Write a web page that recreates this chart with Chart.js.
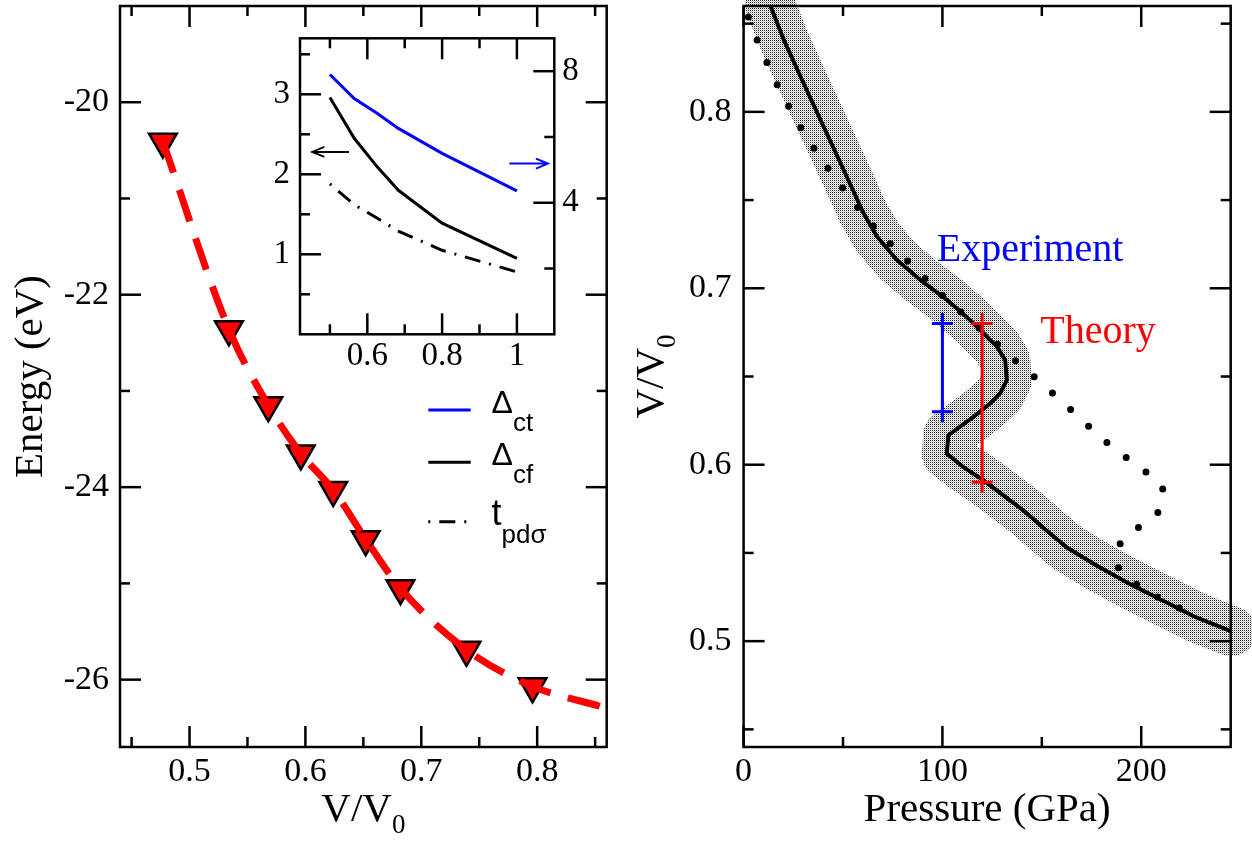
<!DOCTYPE html>
<html>
<head>
<meta charset="utf-8">
<script src="https://cdn.jsdelivr.net/npm/chart.js@4.4.1/dist/chart.umd.min.js"></script>
<style>
  html, body { margin: 0; padding: 0; background: #fff; }
  #wrap { position: relative; width: 1252px; height: 842px; overflow: hidden; }
  canvas { position: absolute; }
  .probe { position: absolute; left: -9999px; font-size: 10px; }
</style>
</head>
<body>
<div id="wrap">
  <canvas id="energyChart" width="626" height="842" style="left:0;top:0;width:626px;height:842px"></canvas>
  <canvas id="pressureChart" width="626" height="842" style="left:626px;top:0;width:626px;height:842px"></canvas>
  <canvas id="insetChart" width="350" height="360" style="left:250px;top:20px;width:350px;height:360px"></canvas>
</div>
<span class="probe" style="font-family:'Liberation Serif'">0.5 Energy</span>
<span class="probe" style="font-family:'Liberation Sans'">&#916;ct</span>
<script>
// --- linke Grafik: Energie gegen V/V0 ---
const energyV = [0.477, 0.534, 0.568, 0.596, 0.624, 0.652, 0.682, 0.739, 0.796];
const energyE = [-20.41, -22.36, -23.15, -23.65, -24.03, -24.54, -25.05, -25.69, -26.07];
// Fitkurve (gestrichelt)
const fitV = [0.477, 0.534, 0.568, 0.596, 0.624, 0.652, 0.682, 0.739, 0.796, 0.855];
const fitE = [-20.41, -22.36, -23.15, -23.65, -24.03, -24.54, -25.05, -25.69, -26.07, -26.28];

const leftXTicks = [0.5, 0.6, 0.7, 0.8];
const leftXMinor = [0.45, 0.55, 0.65, 0.75, 0.85];
const leftYTicks = [-26, -24, -22, -20];
const leftYMinor = [-25, -23, -21];

// --- Inset ---
const insetV = [0.5, 0.565, 0.627, 0.683, 0.8, 1.0];
const deltaCt = [7.90, 7.17, 6.71, 6.26, 5.50, 4.36];   // rechte Achse
const deltaCf = [2.96, 2.45, 2.09, 1.80, 1.39, 0.95];   // linke Achse
const tPdSigma = [1.88, 1.62, 1.45, 1.29, 1.05, 0.78];  // linke Achse

const insetXTicks = [0.6, 0.8, 1];
const insetXMinor = [0.5, 0.7, 0.9];
const insetYTicks = [1, 2, 3];
const insetYMinor = [0.5, 1.5, 2.5, 3.5];
const insetY2Ticks = [4, 8];
const insetY2Minor = [2, 6];

// --- rechte Grafik: V/V0 gegen Druck ---
const solidP = [13.3, 20.0, 29.2, 40.1, 51.0, 60.2, 67.0, 77.0, 88.8, 102.2, 113.9, 120.6, 127.4, 131.6, 132.4, 129.0, 124.0, 115.6, 103.0, 102.2, 110.6, 120.6, 127.4, 140.8, 152.5, 162.6, 177.7, 194.5, 211.2, 228.0, 245.1];
const solidV = [0.8607, 0.8414, 0.8186, 0.792, 0.7655, 0.7428, 0.7295, 0.7162, 0.7048, 0.6935, 0.682, 0.6745, 0.6669, 0.6593, 0.648, 0.6404, 0.6347, 0.6271, 0.6167, 0.6063, 0.5986, 0.5911, 0.5854, 0.574, 0.5626, 0.5531, 0.5427, 0.5323, 0.5228, 0.5133, 0.5057];

const dotP = [2.4, 6.9, 11.9, 17.5, 23.4, 30.0, 37.1, 44.3, 51.9, 60.2, 68.3, 77.6, 86.6, 95.5, 104.4, 113.9, 124.0, 133.7, 143.3, 152.8, 162.6, 171.8, 181.4, 191.4, 201.5, 210.9, 209.2, 199.1, 189.4, 188.3, 197.5, 208.7, 220.5];
const dotV = [0.8537, 0.8404, 0.8275, 0.8139, 0.8015, 0.7886, 0.7765, 0.7651, 0.7536, 0.7418, 0.7314, 0.7209, 0.7109, 0.7007, 0.6912, 0.682, 0.6722, 0.6618, 0.6527, 0.6432, 0.6332, 0.6236, 0.6138, 0.6049, 0.5968, 0.5869, 0.5736, 0.5649, 0.5554, 0.5418, 0.5323, 0.5247, 0.5181];

const expP = [100, 100];
const expV = [0.63, 0.68];
const theoP = [120, 120];
const theoV = [0.59, 0.68];

const rightXTicks = [0, 100, 200];
const rightXMinor = [50, 150];
const rightYTicks = [0.5, 0.6, 0.7, 0.8];
const rightYMinor = [0.45, 0.55, 0.65, 0.75, 0.85];

const SERIF = "'Liberation Serif', 'Times New Roman', serif";
const SANS = "'Liberation Sans', Arial, sans-serif";

const zip = (xs, ys) => xs.map((x, i) => ({ x: x, y: ys[i] }));

// Achse mit festen Ticks; feste Breite/Hoehe, kein Extra-Rand fuer Labels
function axis(min, max, major, size, pad, fitKey, fitVal, extra) {
  return Object.assign({
    type: 'linear', min: min, max: max,
    grid: { display: false, drawTicks: false },
    border: { display: false },
    ticks: { padding: pad, color: '#000', font: { family: SERIF, size: size }, callback: v => String(v) },
    afterBuildTicks: s => { s.ticks = major.map(v => ({ value: v })); },
    afterFit: s => {
      s[fitKey] = fitVal;
      s.paddingTop = 0; s.paddingBottom = 0; s.paddingLeft = 0; s.paddingRight = 0;
    }
  }, extra || {});
}

// Rahmen und nach innen zeigende Ticks
function frameTicks(specs) {
  return {
    id: 'frameTicks',
    afterDatasetsDraw(chart) {
      const { ctx, chartArea: a } = chart;
      ctx.save();
      ctx.strokeStyle = '#000';
      ctx.lineWidth = 2.5;
      specs.forEach(s => {
        const sc = chart.scales[s.axis];
        [[s.major, 21], [s.minor, 10]].forEach(([vals, len]) => vals.forEach(v => {
          const p = sc.getPixelForValue(v);
          s.sides.forEach(side => {
            ctx.beginPath();
            if (side === 'bottom') { ctx.moveTo(p, a.bottom); ctx.lineTo(p, a.bottom - len); }
            if (side === 'top') { ctx.moveTo(p, a.top); ctx.lineTo(p, a.top + len); }
            if (side === 'left') { ctx.moveTo(a.left, p); ctx.lineTo(a.left + len, p); }
            if (side === 'right') { ctx.moveTo(a.right, p); ctx.lineTo(a.right - len, p); }
            ctx.stroke();
          });
        }));
      });
      ctx.strokeRect(a.left, a.top, a.right - a.left, a.bottom - a.top);
      ctx.restore();
    }
  };
}

// Text mit Index, z.B. V/V0
function subText(ctx, main, sub, x, y, mainFont, subFont, drop, centered) {
  ctx.font = mainFont;
  const w1 = ctx.measureText(main).width;
  ctx.font = subFont;
  const w2 = ctx.measureText(sub).width;
  let x0 = centered ? x - (w1 + w2) / 2 : x;
  ctx.textAlign = 'left';
  ctx.textBaseline = 'alphabetic';
  ctx.font = mainFont;
  ctx.fillText(main, x0, y);
  ctx.font = subFont;
  ctx.fillText(sub, x0 + w1, y + drop);
}

function axisTitles(xMain, xSub, yMain, ySub, yOffset) {
  return {
    id: 'axisTitles',
    afterDraw(chart) {
      const { ctx, chartArea: a } = chart;
      ctx.save();
      ctx.fillStyle = '#000';
      const cx = (a.left + a.right) / 2, cy = (a.top + a.bottom) / 2;
      subText(ctx, xMain, xSub, cx, a.bottom + 73.5, '41px ' + SERIF, '27px ' + SERIF, 12, true);
      ctx.translate(a.left - yOffset, cy);
      ctx.rotate(-Math.PI / 2);
      subText(ctx, yMain, ySub, 0, 0, '41px ' + SERIF, '27px ' + SERIF, 12, true);
      ctx.restore();
    }
  };
}

// Punktraster fuer das graue Band
function stipple() {
  const c = document.createElement('canvas');
  c.width = 2; c.height = 2;
  const g = c.getContext('2d');
  g.fillStyle = '#fff'; g.fillRect(0, 0, 2, 2);
  g.fillStyle = '#222'; g.fillRect(0, 0, 1, 1);
  g.fillStyle = '#c4c4c4'; g.fillRect(1, 1, 1, 1);
  return g.createPattern(c, 'repeat');
}

const insetArrows = [
  { axis: 'y', from: [0.551, 2.28], to: [0.453, 2.28], color: '#000' },
  { axis: 'y2', from: [0.98, 5.19], to: [1.083, 5.19], color: '#0000ff' }
];

const pressureLabels = [
  { text: 'Experiment', p: 97.2, v: 0.7152, color: '#0000ff' },
  { text: 'Theory', p: 149.2, v: 0.6692, color: '#ff0000' }
];

function drawCharts() {
  // Linke Grafik
  new Chart(document.getElementById('energyChart'), {
    type: 'scatter',
    data: {
      datasets: [{
        data: zip(fitV, fitE),
        showLine: true,
        borderColor: '#ff0000',
        borderWidth: 7,
        borderDash: [33, 18],
        cubicInterpolationMode: 'monotone',
        pointRadius: 0,
        order: 0
      }, {
        data: zip(energyV, energyE),
        showLine: false,
        pointStyle: 'triangle',
        pointRotation: 180,
        pointRadius: 16,
        pointBackgroundColor: '#ff0000',
        pointBorderColor: '#000',
        pointBorderWidth: 2.5,
        order: 1
      }]
    },
    options: {
      responsive: false,
      animation: false,
      layout: { autoPadding: false, padding: { left: 0, top: 6, right: 19.3, bottom: 0 } },
      plugins: { legend: { display: false }, tooltip: { enabled: false } },
      scales: {
        x: axis(0.44, 0.86, leftXTicks, 34, 5, 'height', 95),
        y: axis(-26.7, -19, leftYTicks, 34, 11, 'width', 120)
      }
    },
    plugins: [
      frameTicks([
        { axis: 'x', major: leftXTicks, minor: leftXMinor, sides: ['bottom', 'top'] },
        { axis: 'y', major: leftYTicks, minor: leftYMinor, sides: ['left', 'right'] }
      ]),
      axisTitles('V/V', '0', 'Energy (eV)', '', 78.3),
      {
        id: 'insetLegend',
        afterDraw(chart) {
          const ctx = chart.ctx;
          const rows = [
            { y: 410, color: '#0000ff', dash: [], main: '\u0394', sub: 'ct', mainSize: 32 },
            { y: 462.3, color: '#000', dash: [], main: '\u0394', sub: 'cf', mainSize: 32 },
            { y: 521.7, color: '#000', dash: [2, 9, 16, 9], main: 't', sub: 'pd\u03c3', mainSize: 36 }
          ];
          ctx.save();
          rows.forEach(r => {
            ctx.strokeStyle = r.color;
            ctx.lineWidth = 3;
            ctx.setLineDash(r.dash);
            ctx.beginPath();
            ctx.moveTo(428.3, r.y);
            ctx.lineTo(470.7, r.y);
            ctx.stroke();
            ctx.fillStyle = '#000';
            subText(ctx, r.main, r.sub, 491.5, r.y + 3, r.mainSize + 'px ' + SANS, '26px ' + SANS, 18, false);
          });
          ctx.restore();
        }
      }
    ]
  });

  // Inset
  new Chart(document.getElementById('insetChart'), {
    type: 'scatter',
    data: {
      datasets: [{
        data: zip(insetV, deltaCt), yAxisID: 'y2', showLine: true, tension: 0,
        borderColor: '#0000ff', borderWidth: 3, pointRadius: 0
      }, {
        data: zip(insetV, deltaCf), yAxisID: 'y', showLine: true, tension: 0,
        borderColor: '#000', borderWidth: 3, pointRadius: 0
      }, {
        data: zip(insetV, tPdSigma), yAxisID: 'y', showLine: true, tension: 0,
        borderColor: '#000', borderWidth: 3, borderDash: [2, 9, 16, 9], pointRadius: 0
      }]
    },
    options: {
      responsive: false,
      animation: false,
      layout: { autoPadding: false, padding: { left: 0, top: 18.3, right: 0, bottom: 0 } },
      plugins: { legend: { display: false }, tooltip: { enabled: false } },
      scales: {
        x: axis(0.42, 1.1, insetXTicks, 33, 2, 'height', 45.7),
        y: axis(0, 3.7, insetYTicks, 33, 10, 'width', 50),
        y2: axis(0, 9, insetY2Ticks, 33, 8, 'width', 45.7, { position: 'right' })
      }
    },
    plugins: [
      {
        id: 'whiteBox',
        beforeDatasetsDraw(chart) {
          const { ctx, chartArea: a } = chart;
          ctx.save();
          ctx.fillStyle = '#fff';
          ctx.fillRect(a.left, a.top, a.right - a.left, a.bottom - a.top);
          ctx.restore();
        }
      },
      frameTicks([
        { axis: 'x', major: insetXTicks, minor: insetXMinor, sides: ['bottom', 'top'] },
        { axis: 'y', major: insetYTicks, minor: insetYMinor, sides: ['left'] },
        { axis: 'y2', major: insetY2Ticks, minor: insetY2Minor, sides: ['right'] }
      ]),
      {
        id: 'arrows',
        afterDatasetsDraw(chart) {
          const ctx = chart.ctx, xs = chart.scales.x;
          ctx.save();
          ctx.lineWidth = 2;
          insetArrows.forEach(a => {
            const ys = chart.scales[a.axis];
            const x0 = xs.getPixelForValue(a.from[0]), y0 = ys.getPixelForValue(a.from[1]);
            const x1 = xs.getPixelForValue(a.to[0]), y1 = ys.getPixelForValue(a.to[1]);
            const dir = Math.sign(x1 - x0);
            ctx.strokeStyle = a.color;
            ctx.beginPath();
            ctx.moveTo(x0, y0); ctx.lineTo(x1, y1);
            ctx.moveTo(x1 - dir * 12, y1 - 5); ctx.lineTo(x1, y1); ctx.lineTo(x1 - dir * 12, y1 + 5);
            ctx.stroke();
          });
          ctx.restore();
        }
      }
    ]
  });

  // Rechte Grafik
  new Chart(document.getElementById('pressureChart'), {
    type: 'scatter',
    data: {
      datasets: [{
        data: zip(solidP, solidV), showLine: true, tension: 0,
        borderColor: stipple(), borderWidth: 50,
        borderJoinStyle: 'round', borderCapStyle: 'round',
        pointRadius: 0, clip: false, order: 4
      }, {
        data: zip(dotP, dotV), showLine: true, tension: 0,
        borderColor: '#000', borderWidth: 7, borderDash: [0, 24.5], borderCapStyle: 'round',
        pointRadius: 0, order: 3
      }, {
        data: zip(solidP, solidV), showLine: true, tension: 0,
        borderColor: '#000', borderWidth: 4, borderJoinStyle: 'round',
        pointRadius: 0, order: 2
      }, {
        data: zip(expP, expV), showLine: true,
        borderColor: '#0000ff', borderWidth: 3,
        pointStyle: 'cross', pointRadius: 10.5, pointBorderColor: '#0000ff', pointBorderWidth: 3,
        clip: false, order: 1
      }, {
        data: zip(theoP, theoV), showLine: true,
        borderColor: '#ff0000', borderWidth: 3,
        pointStyle: 'cross', pointRadius: 10.5, pointBorderColor: '#ff0000', pointBorderWidth: 3,
        clip: false, order: 0
      }]
    },
    options: {
      responsive: false,
      animation: false,
      layout: { autoPadding: false, padding: { left: 0, top: 6, right: 21.3, bottom: 0 } },
      plugins: { legend: { display: false }, tooltip: { enabled: false } },
      scales: {
        x: axis(0, 245, rightXTicks, 34, 5, 'height', 95),
        y: axis(0.44, 0.86, rightYTicks, 34, 12, 'width', 117.6)
      }
    },
    plugins: [
      frameTicks([
        { axis: 'x', major: rightXTicks, minor: rightXMinor, sides: ['bottom', 'top'] },
        { axis: 'y', major: rightYTicks, minor: rightYMinor, sides: ['left', 'right'] }
      ]),
      axisTitles('Pressure (GPa)', '', 'V/V', '0', 80.3),
      {
        id: 'textLabels',
        afterDatasetsDraw(chart) {
          const ctx = chart.ctx;
          ctx.save();
          ctx.font = '40px ' + SERIF;
          ctx.textAlign = 'left';
          ctx.textBaseline = 'alphabetic';
          pressureLabels.forEach(l => {
            ctx.fillStyle = l.color;
            ctx.fillText(l.text, chart.scales.x.getPixelForValue(l.p), chart.scales.y.getPixelForValue(l.v));
          });
          ctx.restore();
        }
      }
    ]
  });
}

// Schriften erst laden, dann zeichnen
Promise.all([
  document.fonts.load("34px 'Liberation Serif'"),
  document.fonts.load("32px 'Liberation Sans'")
]).then(drawCharts, drawCharts);
</script>
</body>
</html>
